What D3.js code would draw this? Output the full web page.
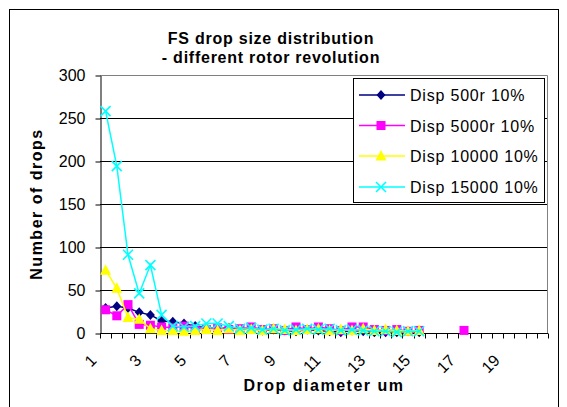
<!DOCTYPE html>
<html><head><meta charset="utf-8">
<script src="https://cdn.jsdelivr.net/npm/d3@7"></script>
<style>body{margin:0;background:#fff}svg{display:block;font-family:"Liberation Sans",Arial,sans-serif}</style>
</head><body><svg id="c" width="567" height="407"></svg>
<script>
const categories = ["1","1.5","2","2.5","3","3.5","4","4.5","5","5.5","6","6.5","7","7.5","8","8.5","9","9.5","10","10.5","11","11.5","12","12.5","13","13.5","14","14.5","15","15.5","16","16.5","17","17.5","18","18.5","19","19.5","20","20.5"];
const tickLabels = ["1","3","5","7","9","11","13","15","17","19"];
const yTicks = [0,50,100,150,200,250,300];
const seriesNames = ["Disp 500r 10%","Disp 5000r 10%","Disp 10000 10%","Disp 15000 10%"];
const disp500 = [29,31,29,24,21,14,13,11,8,6,5,6,4,5,3,4,3,2,4,3,2,1,3,2,1,1,1,2,1];
const disp5000 = [27,20,33,10,9,7,6,8,5,4,6,4,5,7,4,5,3,7,4,7,5,3,7,7,4,3,4,2,3,null,null,null,3];
const disp10000 = [73,52,18,16,5,3,3,2,3,4,3,5,3,4,3,5,4,3,4,5,3,4,3,5,3,4,3,2,3];
const disp15000 = [258,194,91,46,79,21,8,7,8,11,11,8,5,6,4,5,3,4,5,4,5,3,4,3,2,2,1,2,2];
const colors = ["#000080","#FF00FF","#FFFF00","#00FFFF"];
const shapes = ["diamond","square","triangle","x"];

const svg = d3.select("#c");
const L=100,R=548,T=75,B=333;
const x = d3.scaleBand().domain(categories).range([L,R]).padding(0);
const y = d3.scaleLinear().domain([0,300]).range([B,T]);
const cx = c => x(c)+x.bandwidth()/2;

svg.append("rect").attr("x",9.5).attr("y",9.5).attr("width",549).attr("height",420).attr("fill","#fff").attr("stroke","#000");

const title = svg.append("text").attr("text-anchor","middle").attr("font-weight","bold").attr("font-size",16).attr("letter-spacing",0.75);
title.append("tspan").attr("x",271).attr("y",44).text("FS drop size distribution");
title.append("tspan").attr("x",271).attr("y",63).text("- different rotor revolution");

svg.append("g").selectAll("line").data(yTicks.filter(v=>v>0 && v<300)).join("line")
  .attr("x1",L).attr("x2",R).attr("y1",d=>Math.round(y(d))+0.5).attr("y2",d=>Math.round(y(d))+0.5)
  .attr("stroke","#000");
svg.append("path").attr("d",`M${L},${T+0.5}H${R-0.5}V${B}`).attr("fill","none").attr("stroke","#808080");

const ya = svg.append("g").attr("transform",`translate(${L+0.5},0.5)`)
  .call(d3.axisLeft(y).tickValues(yTicks).tickSize(5).tickPadding(10).tickSizeOuter(0));
ya.select(".domain").attr("stroke","#000");
ya.selectAll("text").attr("font-size",16).attr("font-family","Liberation Sans, Arial").attr("fill","#000");

const xa = svg.append("g").attr("transform",`translate(0,${B+0.5})`);
xa.append("line").attr("x1",L).attr("x2",R).attr("stroke","#000");
xa.selectAll("line.t").data(categories.concat(["end"])).join("line").attr("class","t")
  .attr("x1",(d,i)=>Math.round(L+i*x.bandwidth())+0.5).attr("x2",(d,i)=>Math.round(L+i*x.bandwidth())+0.5)
  .attr("y1",0).attr("y2",5).attr("stroke","#000");
xa.selectAll("text.lab").data(tickLabels).join("text").attr("class","lab")
  .attr("transform",d=>`translate(${cx(d)-8},28) rotate(-45)`)
  .attr("text-anchor","end").attr("font-size",16).text(d=>d);

svg.append("text").attr("transform",`translate(42,${(T+B)/2}) rotate(-90)`).attr("text-anchor","middle")
  .attr("font-weight","bold").attr("font-size",16).attr("letter-spacing",1.5).text("Number of drops");
svg.append("text").attr("x",(L+R)/2).attr("y",391).attr("text-anchor","middle")
  .attr("font-weight","bold").attr("font-size",16).attr("letter-spacing",1.5).text("Drop diameter um");

function marker(g, shape, color){
  if(shape==="diamond") g.append("path").attr("d","M0,-5L4.5,0L0,5L-4.5,0Z").attr("fill",color);
  else if(shape==="square") g.append("rect").attr("x",-4.5).attr("y",-4.5).attr("width",9).attr("height",9).attr("fill",color);
  else if(shape==="triangle") g.append("path").attr("d","M0,-6L5.5,4.5L-5.5,4.5Z").attr("fill",color);
  else g.append("path").attr("d","M-5,-5L5,5M5,-5L-5,5").attr("stroke",color).attr("stroke-width",1.6).attr("fill","none");
}

const allSeries = [disp500,disp5000,disp10000,disp15000];
const line = d3.line().defined(d=>d.v!=null).x(d=>cx(d.c)).y(d=>y(d.v));
allSeries.forEach((vals,si)=>{
  const pts = vals.map((v,i)=>({c:categories[i],v}));
  const g = svg.append("g");
  g.append("path").attr("d",line(pts)).attr("fill","none").attr("stroke",colors[si]).attr("stroke-width",1.5);
  pts.filter(d=>d.v!=null).forEach(d=>{
    marker(g.append("g").attr("transform",`translate(${cx(d.c)},${y(d.v)})`), shapes[si], colors[si]);
  });
});

const lg = svg.append("g");
lg.append("rect").attr("x",353.5).attr("y",78.5).attr("width",191).attr("height",124).attr("fill","#fff").attr("stroke","#000");
const rowY = [95,125.5,156,187];
seriesNames.forEach((n,i)=>{
  lg.append("line").attr("x1",359).attr("x2",405).attr("y1",rowY[i]).attr("y2",rowY[i]).attr("stroke",colors[i]).attr("stroke-width",1.5);
  marker(lg.append("g").attr("transform",`translate(381,${rowY[i]})`), shapes[i], colors[i]);
  lg.append("text").attr("x",410).attr("y",rowY[i]+6).attr("font-size",16).attr("letter-spacing",0.8).text(n);
});
</script></body></html>
